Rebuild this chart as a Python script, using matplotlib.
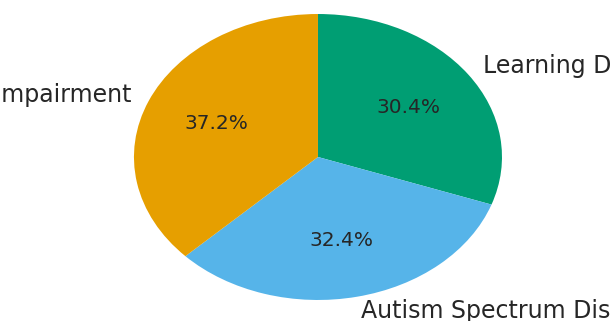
import matplotlib
matplotlib.use('Agg')
import matplotlib.pyplot as plt

# share of students per disability category (percent)
categories = ['Learning Disability', 'Autism Spectrum Disorder', 'Visual Impairment']
shares = [30.4, 32.4, 37.2]

# Okabe-Ito colours
slice_colors = ['#009E73', '#56B4E9', '#E69F00']

text_color = '#262626'

fig = plt.figure(figsize=(6.10, 3.21), dpi=100)
ax = fig.add_axes([0, 0, 1, 1])

wedges, labels, pcts = ax.pie(shares, labels=categories, colors=slice_colors,
                              autopct='%1.1f%%', startangle=90, counterclock=False,
                              textprops={'color': text_color})
for t in labels:
    t.set_fontsize(17)
for t in pcts:
    t.set_fontsize(14.5)

# stretched pie: wider than tall
ax.set_aspect('auto')
ax.set_xlim(-1.728, 1.587)
ax.set_ylim(-1.147, 1.098)
ax.axis('off')

fig.savefig('out.png', dpi=100, facecolor='white')
plt.close(fig)
